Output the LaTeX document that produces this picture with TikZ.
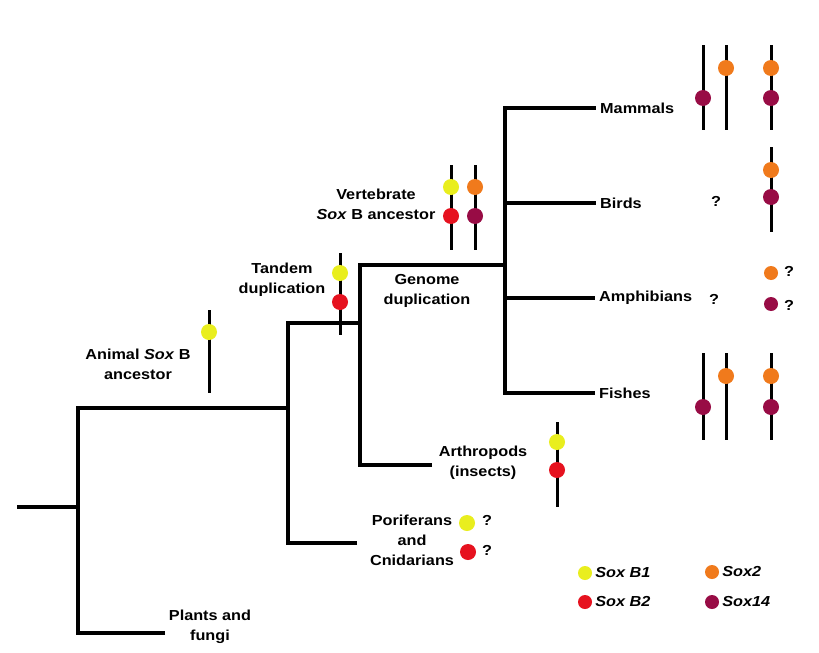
\documentclass[tikz,border=0pt]{standalone}
\usepackage{fontspec}
\setmainfont{Liberation Sans}[FakeStretch=1.12]
\usetikzlibrary{positioning}

\definecolor{soxbone}{HTML}{E9EE1E}
\definecolor{soxbtwo}{HTML}{E6121F}
\definecolor{soxtwo}{HTML}{F07A1C}
\definecolor{soxfourteen}{HTML}{980C45}

\begin{document}
\begin{tikzpicture}[x=1pt, y=-1pt,
	font=\fontsize{14.5}{20}\selectfont\bfseries,
	branch/.style={line width=3.2pt},
	chrom/.style={line width=3pt},
	gene/.style={circle, inner sep=0pt, minimum size=16pt},
	key/.style={circle, inner sep=0pt, minimum size=14pt},
	taxon/.style={anchor=west, inner sep=4pt},
	note/.style={align=center, inner sep=0pt}]
	
	\useasboundingbox[fill=white] (0,0) rectangle (819,653);
	
	% tree
	\coordinate (root) at (17,507);
	\coordinate (R) at (78,507);
	\coordinate (RT) at (78,408);
	\coordinate (plants) at (165,633);
	\coordinate (AN) at (288,408);
	\coordinate (ANT) at (288,323);
	\coordinate (pori) at (357,543);
	\coordinate (TD) at (360,323);
	\coordinate (TDT) at (360,265);
	\coordinate (arth) at (432,465);
	\coordinate (GD) at (505,265);
	\coordinate (GDT) at (505,108);
	\coordinate (GDB) at (505,203);
	\coordinate (GDA) at (505,298);
	
	\node[taxon] (mammals) at (596,108) {Mammals};
	\node[taxon] (birds) at (596,203) {Birds};
	\node[taxon] (amphib) at (595,298) {Amphibians};
	\node[taxon] (fishes) at (595,393) {Fishes};
	
	\draw[branch] (root) -- (R);
	\draw[branch] (plants) -| (RT) -- (AN);
	\draw[branch] (pori) -| (ANT) -- (TD);
	\draw[branch] (arth) -| (TDT) -- (GD);
	\draw[branch] (fishes.west) -| (GDT) -- (mammals.west);
	\draw[branch] (GDB) -- (birds.west);
	\draw[branch] (GDA) -- (amphib.west);
	
	% labels
	\node[note] (plantsl) at (210,627) {Plants and\\fungi};
	\node[note] (poril) at (412,540) {Poriferans\\and\\Cnidarians};
	\node[note] (arthl) at (483,463) {Arthropods\\(insects)};
	\node[note] (animal) at (138,364) {Animal \textit{Sox} B\\ancestor};
	\node[note] (tandem) at (282,280) {Tandem\\duplication};
	\node[note] (genome) at (427,291) {Genome\\duplication};
	\node[note] (vert) at (376,204) {Vertebrate\\\textit{Sox} B ancestor};
	
	% animal ancestor
	\draw[chrom] (209,310) -- (209,393);
	\node[gene, fill=soxbone] (an1) at (209,332) {};
	
	% tandem duplication
	\draw[chrom] (340,253) -- (340,335);
	\node[gene, fill=soxbone] (td1) at (340,273) {};
	\node[gene, fill=soxbtwo] (td2) at (340,302) {};
	
	% vertebrate ancestor
	\draw[chrom] (451,165) -- (451,250);
	\draw[chrom] (475,165) -- (475,250);
	\node[gene, fill=soxbone] (va1) at (451,187) {};
	\node[gene, fill=soxbtwo] (va2) at (451,216) {};
	\node[gene, fill=soxtwo] (va3) at (475,187) {};
	\node[gene, fill=soxfourteen] (va4) at (475,216) {};
	
	% arthropods
	\draw[chrom] (557,422) -- (557,507);
	\node[gene, fill=soxbone] (ar1) at (557,442) {};
	\node[gene, fill=soxbtwo] (ar2) at (557,470) {};
	
	% poriferans and cnidarians
	\node[gene, fill=soxbone] (po1) at (467,523) {};
	\node[gene, fill=soxbtwo] (po2) at (468,552) {};
	\node (poq1) at (487,520) {?};
	\node (poq2) at (487,550) {?};
	
	% mammals
	\draw[chrom] (703,45) -- (703,130);
	\draw[chrom] (726,45) -- (726,130);
	\draw[chrom] (771,45) -- (771,130);
	\node[gene, fill=soxfourteen] (ma1) at (703,98) {};
	\node[gene, fill=soxtwo] (ma2) at (726,68) {};
	\node[gene, fill=soxtwo] (ma3) at (771,68) {};
	\node[gene, fill=soxfourteen] (ma4) at (771,98) {};
	
	% birds
	\node (biq) at (716,201) {?};
	\draw[chrom] (771,147) -- (771,232);
	\node[gene, fill=soxtwo] (bi1) at (771,170) {};
	\node[gene, fill=soxfourteen] (bi2) at (771,197) {};
	
	% amphibians
	\node (amq) at (714,299) {?};
	\node[key, fill=soxtwo] (am1) at (771,273) {};
	\node[key, fill=soxfourteen] (am2) at (771,304) {};
	\node (amq1) at (789,271) {?};
	\node (amq2) at (789,305) {?};
	
	% fishes
	\draw[chrom] (703,353) -- (703,440);
	\draw[chrom] (726,353) -- (726,440);
	\draw[chrom] (771,353) -- (771,440);
	\node[gene, fill=soxfourteen] (fi1) at (703,407) {};
	\node[gene, fill=soxtwo] (fi2) at (726,376) {};
	\node[gene, fill=soxtwo] (fi3) at (771,376) {};
	\node[gene, fill=soxfourteen] (fi4) at (771,407) {};
	
	% legend
	\node[key, fill=soxbone] (k1) at (585,573) {};
	\node[key, fill=soxbtwo] (k2) at (585,602) {};
	\node[key, fill=soxtwo] (k3) at (712,572) {};
	\node[key, fill=soxfourteen] (k4) at (712,602) {};
	\node[right = 3pt of k1, inner sep=0pt] (k1l) {\itshape Sox B1};
	\node[right = 3pt of k2, inner sep=0pt] (k2l) {\itshape Sox B2};
	\node[right = 3pt of k3, inner sep=0pt] (k3l) {\itshape Sox2};
	\node[right = 3pt of k4, inner sep=0pt] (k4l) {\itshape Sox14};
\end{tikzpicture}
\end{document}
